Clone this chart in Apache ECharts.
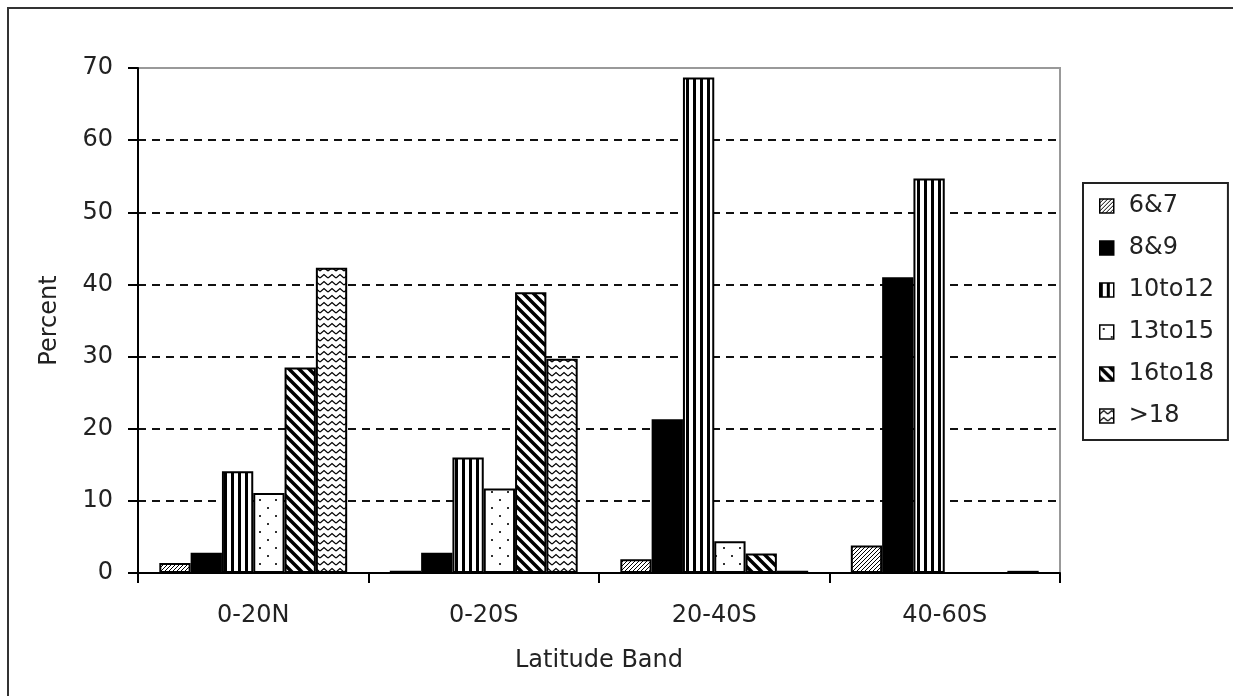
<!DOCTYPE html>
<html>
<head>
<meta charset="utf-8">
<script src="https://cdn.jsdelivr.net/npm/echarts@6/dist/echarts.min.js"></script>
<style>
  html, body { margin: 0; padding: 0; background: #fff; }
  #chart { width: 1233px; height: 696px; }
</style>
</head>
<body>
<div id="chart"></div>
<script>
// data
const categories = ["0-20N", "0-20S", "20-40S", "40-60S"];
const seriesNames = ["6&7", "8&9", "10to12", "13to15", "16to18", ">18"];
const val6and7 = [1.4, 0.3, 1.9, 3.8];
const val8and9 = [2.8, 2.8, 21.3, 41.0];
const val10to12 = [14.1, 16.0, 68.7, 54.7];
const val13to15 = [11.1, 11.7, 4.4, 0];
const val16to18 = [28.5, 38.9, 2.7, 0];
const valOver18 = [42.3, 29.7, 0.3, 0.3];
const yTicks = [0, 10, 20, 30, 40, 50, 60, 70];

const FONT = "DejaVu Sans";
const INK = "#222";

// small canvas tiles used as fill patterns
function tile(w, h, draw) {
  const c = document.createElement("canvas");
  c.width = w;
  c.height = h;
  const ctx = c.getContext("2d");
  ctx.fillStyle = "#fff";
  ctx.fillRect(0, 0, w, h);
  ctx.fillStyle = "#000";
  ctx.strokeStyle = "#000";
  draw(ctx);
  return { image: c, repeat: "repeat" };
}

const fineHatch = tile(4, 4, (ctx) => {
  ctx.fillRect(3, 0, 1, 1);
  ctx.fillRect(2, 1, 1, 1);
  ctx.fillRect(1, 2, 1, 1);
  ctx.fillRect(0, 3, 1, 1);
});
const vStripes = tile(7, 4, (ctx) => {
  ctx.fillRect(0, 0, 3, 4);
});
const dots = tile(16, 16, (ctx) => {
  ctx.fillStyle = "#333";
  ctx.fillRect(3, 3, 2, 2);
  ctx.fillRect(11, 11, 2, 2);
});
const wideDiag = tile(10, 10, (ctx) => {
  ctx.lineWidth = 3.5;
  ctx.beginPath();
  ctx.moveTo(-5, -5); ctx.lineTo(15, 15);
  ctx.moveTo(-15, -5); ctx.lineTo(5, 15);
  ctx.moveTo(5, -5); ctx.lineTo(25, 15);
  ctx.stroke();
});
const zigzag = tile(8, 7, (ctx) => {
  ctx.lineWidth = 1.3;
  ctx.beginPath();
  ctx.moveTo(0, 5);
  ctx.lineTo(4, 1.5);
  ctx.lineTo(8, 5);
  ctx.stroke();
});

const fills = [fineHatch, "#000", vStripes, dots, wideDiag, zigzag];
const values = [val6and7, val8and9, val10to12, val13to15, val16to18, valOver18];

const seriesList = [];
seriesNames.forEach((name, i) => {
  seriesList.push({
    name: name,
    type: "bar",
    barGap: "0%",
    barCategoryGap: "18.5%",
    data: values[i],
    itemStyle: {
      color: fills[i],
      borderColor: "#000",
      borderWidth: 2,
    },
  });
});

const myChart = echarts.init(document.getElementById("chart"), null, { renderer: "canvas" });
myChart.setOption({
  animation: false,
  backgroundColor: "#fff",
  textStyle: { fontFamily: FONT },
  graphic: [
    {
      type: "rect",
      shape: { x: 8, y: 8, width: 1250, height: 720 },
      style: { fill: null, stroke: "#333", lineWidth: 2 },
      silent: true,
    },
  ],
  grid: {
    left: 138,
    top: 68,
    right: 173,
    bottom: 123,
    show: true,
    borderColor: "#999",
    borderWidth: 2,
  },
  legend: {
    orient: "vertical",
    left: 1083,
    top: 183,
    data: seriesNames,
    icon: "rect",
    itemWidth: 14,
    itemHeight: 14,
    itemGap: 18,
    padding: [11, 14, 12, 16],
    borderColor: "#222",
    borderWidth: 2,
    itemStyle: { borderColor: "#000", borderWidth: 1.5 },
    textStyle: {
      fontFamily: FONT,
      fontSize: 24,
      lineHeight: 24,
      color: INK,
      padding: [0, 0, 0, 10],
    },
  },
  xAxis: {
    type: "category",
    data: categories,
    name: "Latitude Band",
    nameLocation: "middle",
    nameGap: 76,
    nameTextStyle: { fontFamily: FONT, fontSize: 24, color: INK },
    axisLine: { lineStyle: { color: "#000", width: 2 } },
    axisTick: { show: true, length: 10, alignWithLabel: false, lineStyle: { color: "#000", width: 2 } },
    axisLabel: { margin: 31, fontFamily: FONT, fontSize: 24, color: INK },
    splitLine: { show: false },
  },
  yAxis: {
    type: "value",
    min: yTicks[0],
    max: yTicks[yTicks.length - 1],
    interval: 10,
    name: "Percent",
    nameLocation: "middle",
    nameGap: 76,
    nameRotate: 90,
    nameTextStyle: { fontFamily: FONT, fontSize: 24, color: INK },
    axisLine: { show: true, lineStyle: { color: "#000", width: 2 } },
    axisTick: { show: true, length: 10, lineStyle: { color: "#000", width: 2 } },
    axisLabel: { margin: 25, fontFamily: FONT, fontSize: 24, color: INK },
    splitLine: {
      show: true,
      showMinLine: false,
      showMaxLine: false,
      lineStyle: { color: "#111", width: 2, type: [8, 6] },
    },
  },
  series: seriesList,
});
</script>
</body>
</html>
